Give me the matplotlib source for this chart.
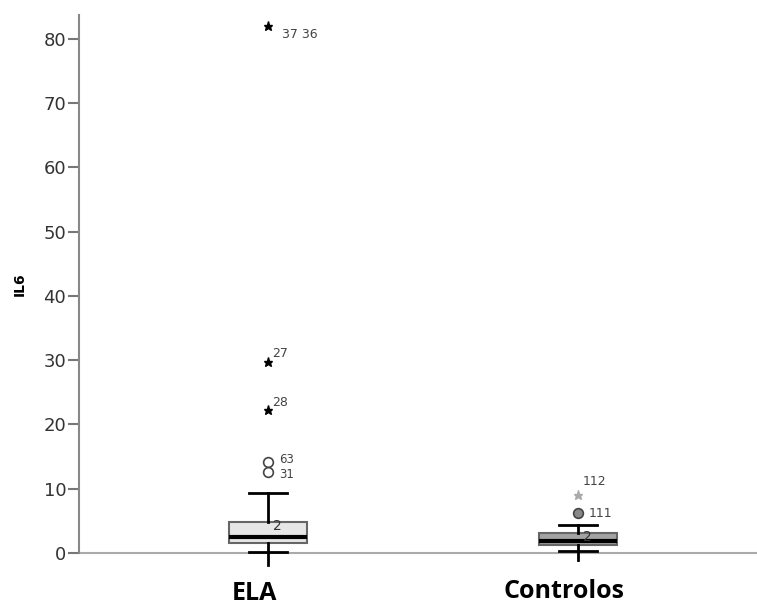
import matplotlib.pyplot as plt

# box statistics (IL6)
groups = ['ELA', 'Controlos']
q1 = [1.5, 1.2]
median = [2.5, 1.9]
q3 = [4.8, 3.1]
whis_lo = [0.15, 0.3]
whis_hi = [9.3, 4.3]
whis_tail = [-1.9, -1.1]
box_colors = ['#e6e6e6', '#a3a3a3']

# outliers: group index, value, label, kind
out_group = [0, 0, 0, 0, 0, 1, 1]
out_value = [82.0, 29.8, 22.2, 14.2, 12.6, 9.0, 6.2]
out_label = ['37 36', '27', '28', '63', '31', '112', '111']
out_kind = ['star', 'star', 'star', 'circle', 'circle', 'star_gray', 'circle_gray']

yticks = [0, 10, 20, 30, 40, 50, 60, 70, 80]

fig = plt.figure(figsize=(7.57, 6.07), dpi=100)
ax = fig.add_axes([0.104, 0.089, 0.896, 0.886])

pos = [1, 2]
stats = []
for i, g in enumerate(groups):
    stats.append(dict(label=g, q1=q1[i], med=median[i], q3=q3[i],
                      whislo=whis_lo[i], whishi=whis_hi[i], fliers=[]))

bp = ax.bxp(stats, positions=pos, widths=0.25, patch_artist=True,
            showfliers=False,
            boxprops=dict(edgecolor='#666666', linewidth=1.5),
            medianprops=dict(color='black', linewidth=3),
            whiskerprops=dict(color='black', linewidth=2),
            capprops=dict(color='black', linewidth=2),
            capwidths=0.125)
for patch, c in zip(bp['boxes'], box_colors):
    patch.set_facecolor(c)
    patch.set_zorder(3)
for m in bp['medians']:
    m.set_zorder(4)
for ln in bp['caps'] + bp['whiskers']:
    ln.set_zorder(3)
    ln.set_clip_on(False)

# little tails under the lower whisker, as in the original
for i, p in enumerate(pos):
    ax.plot([p, p], [whis_lo[i], whis_tail[i]], color='black', lw=2,
            clip_on=False, zorder=3)
    ax.text(p + 0.03, q3[i] - 0.6, '2', fontsize=10, color='#333333',
            ha='center', va='center', zorder=5)

for g, v, lab, k in zip(out_group, out_value, out_label, out_kind):
    x = pos[g]
    if k == 'star':
        ax.plot(x, v, marker='*', ms=6.5, color='black', ls='none', clip_on=False)
        if lab == '37 36':
            ax.annotate(lab, (x, v), xytext=(10, -6), textcoords='offset points',
                        fontsize=9, color='#444444', va='center')
        else:
            ax.annotate(lab, (x, v), xytext=(3, 6), textcoords='offset points',
                        fontsize=9, color='#444444', va='center')
    elif k == 'star_gray':
        ax.plot(x, v, marker='*', ms=6.5, color='#aaaaaa', ls='none')
        ax.annotate(lab, (x, v), xytext=(3, 10), textcoords='offset points',
                    fontsize=9, color='#444444', va='center')
    elif k == 'circle':
        ax.plot(x, v, marker='o', ms=7, mfc='white', mec='#444444', mew=1.2,
                ls='none')
        dy = 1.5 if lab == '63' else -1.5
        ax.annotate(lab, (x, v), xytext=(8, dy), textcoords='offset points',
                    fontsize=8.5, color='#444444', va='center')
    else:
        ax.plot(x, v, marker='o', ms=7, mfc='#888888', mec='#444444', mew=1.2,
                ls='none')
        ax.annotate(lab, (x, v), xytext=(8, 0), textcoords='offset points',
                    fontsize=9, color='#444444', va='center')

ax.set_xlim(0.39, 2.577)
ax.set_ylim(0, 83.7)
ax.set_yticks(yticks)
ax.tick_params(axis='y', direction='out', length=8, width=1.5, color='#777777',
               labelsize=13, labelcolor='#333333', pad=1)
ax.set_xticks([])

for s in ['top', 'right']:
    ax.spines[s].set_visible(False)
ax.spines['left'].set_color('#888888')
ax.spines['left'].set_linewidth(1.5)
ax.spines['bottom'].set_color('#aaaaaa')
ax.spines['bottom'].set_linewidth(1.5)
ax.spines['bottom'].set_zorder(1)

ax.set_ylabel('IL6', fontsize=10, fontweight='bold', labelpad=12)

# category labels under the axis
ax.annotate(groups[0], (pos[0], 0), xytext=(-10, -20), textcoords='offset points',
            ha='center', va='top', fontsize=18, fontweight='bold',
            family='Open Sans', annotation_clip=False)
ax.annotate(groups[1], (pos[1], 0), xytext=(-10, -19), textcoords='offset points',
            ha='center', va='top', fontsize=18, fontweight='bold',
            family='Open Sans', annotation_clip=False)

fig.savefig('out.png', dpi=100)
